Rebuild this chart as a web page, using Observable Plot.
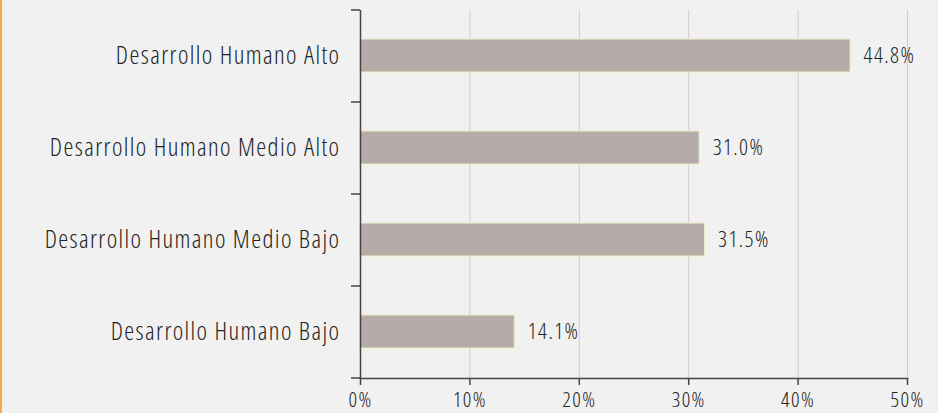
<!DOCTYPE html>
<html>
<head>
<meta charset="utf-8">
<script src="https://cdn.jsdelivr.net/npm/d3@7"></script>
<script src="https://cdn.jsdelivr.net/npm/@observablehq/plot@0.6"></script>
<style>
  html, body { margin: 0; padding: 0; background: #f1f1f1; }
  #chart { width: 938px; height: 413px; box-sizing: border-box; border-left: 2px solid #f7a94c; background: #f1f1f1; overflow: hidden; }
  #chart svg { display: block; }
  #chart svg text { font-stretch: condensed; font-weight: 300; letter-spacing: 1.4px; }
</style>
</head>
<body>
<div id="chart"></div>
<script>
const categories = [
  "Desarrollo Humano Alto",
  "Desarrollo Humano Medio Alto",
  "Desarrollo Humano Medio Bajo",
  "Desarrollo Humano Bajo"
];
const values = [44.8, 31.0, 31.5, 14.1];
const xTicks = [0, 10, 20, 30, 40, 50];

const data = categories.map((c, i) => ({category: c, value: values[i]}));

const W = 936, H = 413;
const marginTop = 10, marginBottom = 35, marginLeft = 358, marginRight = 31;
const step = (H - marginTop - marginBottom) / categories.length;
const font = "'Open Sans', sans-serif";

const chart = Plot.plot({
  width: W,
  height: H,
  marginTop, marginBottom, marginLeft, marginRight,
  style: {background: "transparent", fontFamily: font, color: "#222"},
  x: {domain: [0, 50], ticks: xTicks, label: null},
  y: {domain: categories, paddingInner: 0.64, paddingOuter: 0.32, label: null},
  marks: [
    Plot.ruleX(xTicks.filter(d => d > 0), {stroke: "#d4cccc", strokeWidth: 1}),
    Plot.barX(data, {
      x: "value", y: "category",
      fill: "#b5acaa", stroke: "#f1ebc2", strokeWidth: 1,
      style: "filter: drop-shadow(0 0 3px rgba(0,0,0,0.08))"
    }),
    Plot.text(data, {
      x: "value", y: "category",
      text: d => d.value.toFixed(1) + "%",
      textAnchor: "start", dx: 13, fontSize: 22, fill: "#222"
    }),
    Plot.axisY({ticks: categories, tickSize: 0, tickPadding: 20, fontSize: 25, fill: "#222", label: null}),
    Plot.axisY({ticks: categories, tickSize: 9, text: null, dy: -step / 2, stroke: "#444", strokeWidth: 1.5, label: null}),
    Plot.axisY({ticks: categories.slice(-1), tickSize: 9, text: null, dy: step / 2, stroke: "#444", strokeWidth: 1.5, label: null}),
    Plot.axisX({ticks: xTicks, tickFormat: d => d + "%", tickSize: 7, tickPadding: 7, fontSize: 21, fill: "#222", stroke: "#444", strokeWidth: 1.5, label: null}),
    Plot.ruleX([0], {stroke: "#444", strokeWidth: 1.5}),
    Plot.frame({anchor: "bottom", stroke: "#444", strokeWidth: 1.5})
  ]
});
document.getElementById("chart").append(chart);
</script>
</body>
</html>
